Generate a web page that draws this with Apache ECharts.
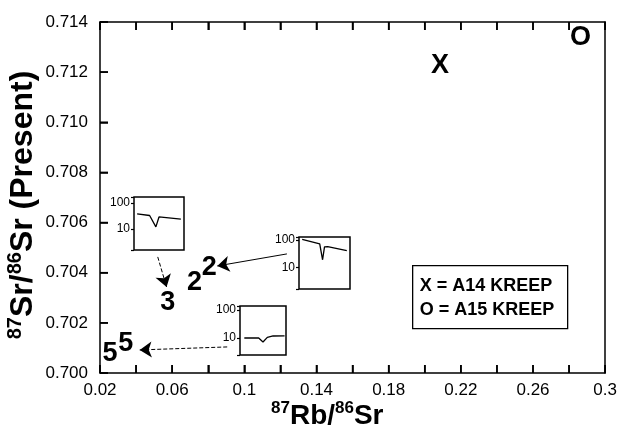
<!DOCTYPE html>
<html>
<head>
<meta charset="utf-8">
<script src="https://cdn.jsdelivr.net/npm/echarts@6/dist/echarts.min.js"></script>
<style>
  html, body { margin: 0; padding: 0; background: #fff; }
  #chart { width: 620px; height: 436px; }
</style>
</head>
<body>
<div id="chart"></div>
<script>
// Sample markers: Rb/Sr vs present-day Sr isotope ratio
const sampleLabels = ['X', 'O', '2', '2', '3', '5', '5'];
const rbSr = [0.2085, 0.2863, 0.0724, 0.0806, 0.0575, 0.0255, 0.0343];
const srSr = [0.71225, 0.71338, 0.70359, 0.70419, 0.70283, 0.70076, 0.70116];

// Axis ranges and tick steps
const xTicks = { min: 0.02, max: 0.3, step: 0.02 };
const yTicks = { min: 0.700, max: 0.714, step: 0.002 };

// Small REE-style patterns shown in the three inset boxes (position along element row, abundance)
const insetA_pos = [1, 5, 7, 8, 15];
const insetA_val = [38, 33, 12, 29, 24];
const insetB_pos = [1, 6.5, 7.4, 8, 9, 15];
const insetB_val = [105, 72, 19, 56, 57, 41];
const insetC_pos = [1.5, 6.5, 8, 9.5, 11.5, 15.5];
const insetC_val = [10, 10, 7.2, 10.5, 11.8, 12];

// Arrow links from each inset to its sample markers: [fromX, fromY, toX, toY] in data units
const arrowLinks = [
  [0.0520, 0.70463, 0.0569, 0.70343],
  [0.1236, 0.70475, 0.0850, 0.70427],
  [0.0905, 0.70104, 0.0420, 0.70092]
];

const legendLines = ['X = A14 KREEP', 'O = A15 KREEP'];

const FONT = 'Liberation Sans, Arial, Helvetica, sans-serif';
const INK = '#000';
const TICK_LEN = 8;

const chart = echarts.init(document.getElementById('chart'), null, { renderer: 'canvas' });

function zip(a, b) { return a.map((v, i) => [v, b[i]]); }

const insetBoxes = [
  { left: 134, top: 197, width: 50, height: 53, ymin: 1.55, ymax: 170, data: zip(insetA_pos, insetA_val) },
  { left: 299, top: 237, width: 51, height: 52, ymin: 1.64, ymax: 128, data: zip(insetB_pos, insetB_val) },
  { left: 240, top: 306, width: 46, height: 49, ymin: 2.47, ymax: 139, data: zip(insetC_pos, insetC_val) }
];

const isDecade = v => {
  const r = Math.round(v);
  return (r === 10 || r === 100) && Math.abs(v - r) < 1e-6;
};

const tickIn = { show: true, inside: true, length: TICK_LEN, lineStyle: { color: INK, width: 1.5 } };

const grids = [{ left: 100, right: 12, top: 22, bottom: 63, show: false }];
const xAxes = [
  {
    type: 'value', gridIndex: 0, position: 'bottom',
    min: xTicks.min, max: xTicks.max, interval: xTicks.step,
    axisLine: { show: true, lineStyle: { color: INK, width: 1.5 } },
    axisTick: tickIn,
    axisLabel: {
      color: INK, fontFamily: FONT, fontSize: 17, margin: 9,
      formatter: v => (Math.round(v * 100) % 4 === 2 ? String(+v.toFixed(2)) : '')
    },
    splitLine: { show: false }
  },
  {
    type: 'value', gridIndex: 0, position: 'top',
    min: xTicks.min, max: xTicks.max, interval: xTicks.step,
    axisLine: { show: true, lineStyle: { color: INK, width: 1.5 } },
    axisTick: tickIn,
    axisLabel: { show: false },
    splitLine: { show: false }
  }
];
const yAxes = [
  {
    type: 'value', gridIndex: 0, position: 'left',
    min: yTicks.min, max: yTicks.max, interval: yTicks.step,
    axisLine: { show: true, lineStyle: { color: INK, width: 1.5 } },
    axisTick: tickIn,
    axisLabel: { color: INK, fontFamily: FONT, fontSize: 17, margin: 12, formatter: v => v.toFixed(3) },
    splitLine: { show: false }
  },
  {
    type: 'value', gridIndex: 0, position: 'right',
    min: yTicks.min, max: yTicks.max, interval: yTicks.step,
    axisLine: { show: true, lineStyle: { color: INK, width: 1.5 } },
    axisTick: { show: false },
    axisLabel: { show: false },
    splitLine: { show: false }
  }
];

const series = [
  {
    type: 'scatter',
    xAxisIndex: 0, yAxisIndex: 0,
    symbol: 'circle',
    symbolSize: 0,
    itemStyle: { color: INK, opacity: 1 },
    data: sampleLabels.map((n, i) => ({ name: n, value: [rbSr[i], srSr[i]] })),
    label: {
      show: true, position: 'inside', formatter: '{b}',
      color: INK, fontFamily: FONT, fontSize: 27, fontWeight: 'bold',
      textBorderWidth: 0
    },
    markLine: {
      silent: true,
      animation: false,
      symbol: ['none', 'arrow'],
      symbolSize: 12,
      label: { show: false },
      itemStyle: { color: INK },
      lineStyle: { color: INK, width: 1, type: 'solid', opacity: 1 },
      data: arrowLinks.map((a, i) => [
        { coord: [a[0], a[1]], lineStyle: { type: i === 1 ? 'solid' : [4, 2] } },
        { coord: [a[2], a[3]] }
      ])
    },
    animation: false
  }
];

insetBoxes.forEach((b, k) => {
  const g = k + 1;          // grid index of this inset
  const ax = k + 2;         // axis index (main chart owns two x and two y axes)
  grids.push({
    left: b.left, top: b.top, width: b.width, height: b.height,
    show: true, borderColor: INK, borderWidth: 1.5, backgroundColor: 'transparent'
  });
  xAxes.push({
    type: 'value', gridIndex: g, min: 0, max: 16,
    axisLine: { show: false }, axisTick: { show: false },
    axisLabel: { show: false }, splitLine: { show: false }
  });
  yAxes.push({
    type: 'log', gridIndex: g, min: b.ymin, max: b.ymax, logBase: 10,
    axisLine: { show: false },
    axisTick: { show: true, inside: false, length: 3, lineStyle: { color: INK, width: 1.2 } },
    axisLabel: {
      color: INK, fontFamily: FONT, fontSize: 12, margin: 4,
      formatter: v => (isDecade(v) ? String(Math.round(v)) : '')
    },
    minorTick: { show: false },
    splitLine: { show: false }
  });
  series.push({
    type: 'line', xAxisIndex: ax, yAxisIndex: ax,
    data: b.data, symbol: 'none', smooth: false,
    lineStyle: { color: INK, width: 1.3 },
    animation: false
  });
});

const supRich = {
  m: { fontFamily: FONT, fontSize: 28, fontWeight: 'bold', color: INK, lineHeight: 30, verticalAlign: 'bottom' },
  s: { fontFamily: FONT, fontSize: 17, fontWeight: 'bold', color: INK, lineHeight: 30, verticalAlign: 'top', padding: [0, 0, 12, 0] }
};
const supRichY = {
  m: { fontFamily: FONT, fontSize: 32, fontWeight: 'bold', color: INK, lineHeight: 34, verticalAlign: 'bottom' },
  s: { fontFamily: FONT, fontSize: 20, fontWeight: 'bold', color: INK, lineHeight: 34, verticalAlign: 'top', padding: [0, 0, 14, 0] }
};

chart.setOption({
  backgroundColor: '#fff',
  animation: false,
  grid: grids,
  xAxis: xAxes,
  yAxis: yAxes,
  series: series
});

// Inward frame ticks, positioned through the main axes' own scales
const tickLines = [];
const nx = Math.round((xTicks.max - xTicks.min) / xTicks.step);
const ny = Math.round((yTicks.max - yTicks.min) / yTicks.step);
const yBottom = chart.convertToPixel({ yAxisIndex: 0 }, yTicks.min);
const yTop = chart.convertToPixel({ yAxisIndex: 0 }, yTicks.max);
const xLeft = chart.convertToPixel({ xAxisIndex: 0 }, xTicks.min);
for (let k = 0; k <= nx; k++) {
  const px = chart.convertToPixel({ xAxisIndex: 0 }, xTicks.min + k * xTicks.step);
  tickLines.push({ type: 'line', z: 100, silent: true,
    shape: { x1: px, y1: yBottom, x2: px, y2: yBottom - TICK_LEN }, style: { stroke: INK, lineWidth: 1.6 } });
  tickLines.push({ type: 'line', z: 100, silent: true,
    shape: { x1: px, y1: yTop, x2: px, y2: yTop + TICK_LEN }, style: { stroke: INK, lineWidth: 1.6 } });
}
for (let k = 0; k <= ny; k++) {
  const py = chart.convertToPixel({ yAxisIndex: 0 }, yTicks.min + k * yTicks.step);
  tickLines.push({ type: 'line', z: 100, silent: true,
    shape: { x1: xLeft, y1: py, x2: xLeft + TICK_LEN, y2: py }, style: { stroke: INK, lineWidth: 1.6 } });
}

chart.setOption({
  graphic: [
    {
      type: 'text', left: 271, top: 400,
      style: { text: '{s|87}{m|Rb/}{s|86}{m|Sr}', rich: supRich }
    },
    {
      type: 'text', x: 22, y: 205, rotation: Math.PI / 2,
      style: {
        text: '{s|87}{m|Sr/}{s|86}{m|Sr (Present)}', rich: supRichY,
        align: 'center', verticalAlign: 'middle'
      }
    },
    {
      type: 'group', left: 412, top: 265,
      children: [
        { type: 'rect', shape: { x: 0, y: 0, width: 155, height: 63 },
          style: { fill: '#fff', stroke: INK, lineWidth: 1.3 } },
        { type: 'text', x: 7, y: 20,
          style: { text: legendLines[0], fontFamily: FONT, fontSize: 18, fontWeight: 'bold', fill: INK, verticalAlign: 'middle' } },
        { type: 'text', x: 7, y: 44,
          style: { text: legendLines[1], fontFamily: FONT, fontSize: 18, fontWeight: 'bold', fill: INK, verticalAlign: 'middle' } }
      ]
    }
  ].concat(tickLines)
});
</script>
</body>
</html>
